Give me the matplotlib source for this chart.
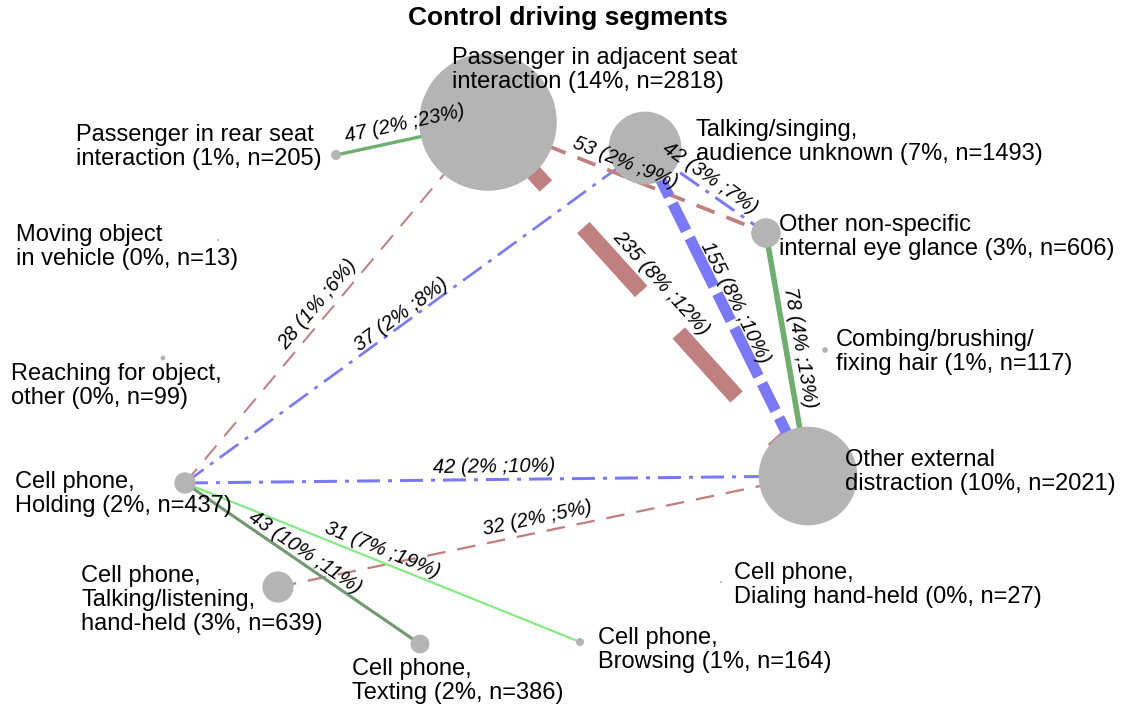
import numpy as np
import matplotlib.pyplot as plt
from matplotlib.patches import Circle

plt.rcParams['font.family'] = ['Liberation Sans', 'DejaVu Sans']
plt.rcParams['lines.scale_dashes'] = False

# --- nodes (layout in pixel coords of the original picture) ---
node_names = ['Passenger in adjacent seat\ninteraction',
              'Talking/singing,\naudience unknown',
              'Other non-specific\ninternal eye glance',
              'Combing/brushing/\nfixing hair',
              'Other external\ndistraction',
              'Cell phone,\nDialing hand-held',
              'Cell phone,\nBrowsing',
              'Cell phone,\nTexting',
              'Cell phone,\nTalking/listening,\nhand-held',
              'Cell phone,\nHolding',
              'Reaching for object,\nother',
              'Moving object\nin vehicle',
              'Passenger in rear seat\ninteraction']
node_pct = [14, 7, 3, 1, 10, 0, 1, 2, 3, 2, 0, 0, 1]
node_n = [2818, 1493, 606, 117, 2021, 27, 164, 386, 639, 437, 99, 13, 205]
node_x = [488, 645, 766, 825, 808, 721, 580, 420, 278, 185, 163, 218, 336]
node_y = [122, 148, 233, 350, 476, 582, 642, 644, 587, 483, 358, 240, 155]

# where each node's label block sits (left/right edge, vertical centre)
label_x = [452, 696, 779, 836, 845, 734, 598, 352, 323, 15, 11, 16, 322]
label_y = [70, 142, 237, 352, 472, 585, 650, 681, 600, 494, 386, 247, 147]
label_ha = ['left', 'left', 'left', 'left', 'left', 'left', 'left', 'left',
            'right', 'left', 'left', 'left', 'right']

# --- edges ---
edge_src = [12, 9, 9, 0, 0, 1, 1, 2, 9, 8, 9, 9]
edge_dst = [0, 0, 1, 2, 4, 4, 2, 4, 4, 4, 6, 7]
edge_count = [47, 28, 37, 53, 235, 155, 42, 78, 42, 32, 31, 43]
edge_pct_a = [2, 1, 2, 2, 8, 8, 3, 4, 2, 2, 7, 10]
edge_pct_b = [23, 6, 8, 9, 12, 10, 7, 13, 10, 5, 19, 11]
edge_kind = ['solid', 'dashed', 'dashdot', 'dashed', 'dashed', 'dashdot',
             'dashdot', 'solid', 'dashdot', 'dashed', 'solid', 'solid']
edge_color = ['#6eaf6e', '#c08080', '#7878f8', '#c08080', '#c08080', '#7878f8',
              '#7878f8', '#6eaf6e', '#7878f8', '#c08080', '#84ea84', '#6e9a6e']
edge_label_x = [405, 318, 401, 625, 661, 735, 710, 800, 494, 537, 382, 305]
edge_label_y = [124, 304, 315, 163, 283, 303, 178, 348, 467, 518, 550, 553]

fig = plt.figure(figsize=(11.27, 7.10), dpi=100)
ax = fig.add_axes([0, 0, 1, 1])
ax.set_xlim(0, 1127)
ax.set_ylim(710, 0)
ax.axis('off')

PX = 0.72  # points per pixel at dpi 100

for i in range(len(edge_src)):
    s, d = edge_src[i], edge_dst[i]
    x1, y1, x2, y2 = node_x[s], node_y[s], node_x[d], node_y[d]
    w = max(edge_count[i] / 14.0, 2.0)
    if edge_kind[i] == 'dashed':
        k = max(1.0, w / 3.6)
        ls = (0, (18.5 * k * PX, 12 * k * PX))
    elif edge_kind[i] == 'dashdot':
        k = max(1.0, w / 4.7)
        dot = 4 + max(0.0, 3.25 * (w - 3))
        ls = (0, (23 * k * PX, 8 * PX, dot * PX, 8 * PX))
    else:
        ls = '-'
    ax.plot([x1, x2], [y1, y2], color=edge_color[i], lw=w * PX, ls=ls,
            solid_capstyle='butt', dash_capstyle='butt', zorder=1)

for i in range(len(node_n)):
    r = max(node_n[i] / 41.0, 1.0)
    ax.add_patch(Circle((node_x[i], node_y[i]), r, color='#b4b4b4', lw=0, zorder=2))
    ax.text(label_x[i], label_y[i], f'{node_names[i]} ({node_pct[i]}%, n={node_n[i]})',
            ha=label_ha[i], va='center', fontsize=17, linespacing=1.12,
            multialignment='left', zorder=4)

for i in range(len(edge_src)):
    s, d = edge_src[i], edge_dst[i]
    ang = np.degrees(np.arctan2(-(node_y[d] - node_y[s]), node_x[d] - node_x[s]))
    if ang > 90:
        ang -= 180
    elif ang <= -90:
        ang += 180
    ax.text(edge_label_x[i], edge_label_y[i],
            f'{edge_count[i]} ({edge_pct_a[i]}% ;{edge_pct_b[i]}%)',
            rotation=ang, rotation_mode='anchor', ha='center', va='center',
            fontsize=14.5, fontstyle='italic', zorder=5)

ax.text(568, 18, 'Control driving segments', ha='center', va='center',
        fontsize=19, fontweight='bold')

fig.savefig('out.png', dpi=100)
